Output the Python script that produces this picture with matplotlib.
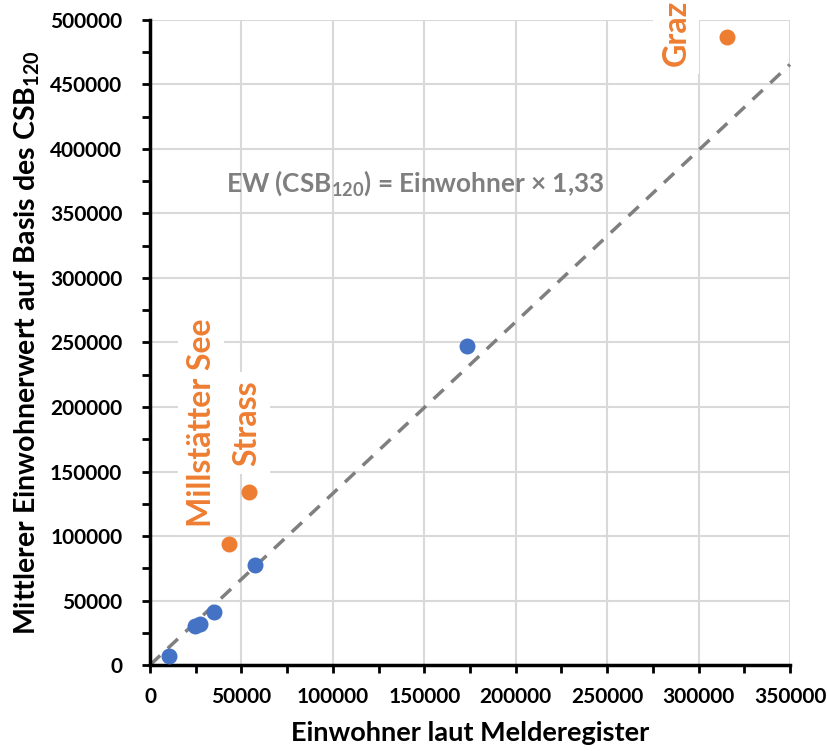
import matplotlib.pyplot as plt
from matplotlib.ticker import MultipleLocator

plt.rcParams['font.family'] = ['Lato', 'DejaVu Sans']
plt.rcParams['font.weight'] = 'bold'
plt.rcParams['axes.labelweight'] = 'bold'
plt.rcParams['mathtext.fontset'] = 'custom'
plt.rcParams['mathtext.rm'] = 'Lato:bold'
plt.rcParams['mathtext.default'] = 'rm'

# Einwohner laut Melderegister vs. mittlerer EW (CSB120)
blue_x = [10500, 24600, 27300, 35000, 57400, 173400]
blue_y = [7000, 30200, 31800, 41100, 77500, 247300]

orange_names = ['Millstätter See', 'Strass', 'Graz']
orange_x = [43200, 54100, 315500]
orange_y = [93800, 134100, 486800]
label_pos = [(27900, 188000), (53000, 187600), (287700, 490000)]

factor = 1.33
line_x = [0, 350000]

fig = plt.figure(figsize=(8.27, 7.51), dpi=100)
ax = fig.add_axes([0.1814, 0.1145, 0.7738, 0.8589])

ax.set_xlim(0, 350000)
ax.set_ylim(0, 500000)
ax.xaxis.set_major_locator(MultipleLocator(50000))
ax.xaxis.set_minor_locator(MultipleLocator(25000))
ax.yaxis.set_major_locator(MultipleLocator(50000))
ax.yaxis.set_minor_locator(MultipleLocator(25000))
ax.grid(True, which='major', color='#d9d9d9', linewidth=1.5, zorder=0)
ax.set_axisbelow(True)

for side in ['top', 'right']:
    ax.spines[side].set_visible(False)
for side in ['left', 'bottom']:
    ax.spines[side].set_linewidth(2.5)
ax.tick_params(which='both', direction='out', length=6, width=2, labelsize=15)
ax.tick_params(axis='x', pad=10)
ax.tick_params(axis='y', pad=14)

ax.plot(line_x, [v * factor for v in line_x], color='#7f7f7f', linestyle=(0, (4, 3)),
        linewidth=2.5, zorder=2, clip_on=False)
ax.scatter(blue_x, blue_y, s=110, color='#4472c4', zorder=3, clip_on=False)
ax.scatter(orange_x, orange_y, s=110, color='#ed7d31', zorder=3, clip_on=False)

for name, (lx, ly) in zip(orange_names, label_pos):
    ax.text(lx, ly, name, rotation=90, ha='center', va='center', fontsize=23,
            color='#ed7d31', zorder=4, clip_on=False,
            bbox=dict(facecolor='white', edgecolor='none', pad=6))

ax.text(145000, 373600, r'EW (CSB$_{120}$) = Einwohner × 1,33', ha='center', va='center',
        fontsize=18.8, color='#7f7f7f', zorder=4)

ax.set_xlabel('Einwohner laut Melderegister', fontsize=19.5, labelpad=10)
ax.set_ylabel(r'Mittlerer Einwohnerwert auf Basis des CSB$_{120}$', fontsize=20.5, labelpad=6)

fig.savefig('out.png', dpi=100)
